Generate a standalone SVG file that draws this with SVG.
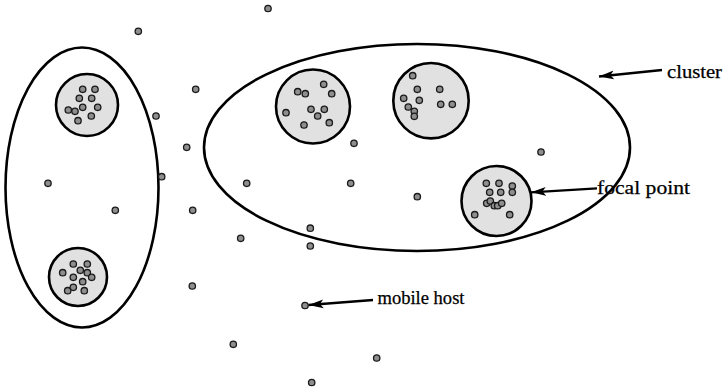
<svg xmlns="http://www.w3.org/2000/svg" width="726" height="392" viewBox="0 0 726 392">
  <defs>
    <style>
      .bg { fill: #ffffff; }
      .cluster { fill: none; stroke: #000; stroke-width: 2.6; }
      .focal { fill: #e1e1e1; stroke: #000; stroke-width: 2.6; }
      .host { fill: #8e8e8e; stroke: #1a1a1a; stroke-width: 1.3; }
      .lead { fill: none; stroke: #000; stroke-width: 2.3; }
      .label { font-family: "Liberation Serif", "Times New Roman", serif; font-size: 18px; fill: #000; stroke: #000; stroke-width: 0.25; }
    </style>
    <marker id="arrow" markerWidth="16" markerHeight="10" refX="15" refY="5" orient="auto" markerUnits="userSpaceOnUse">
      <path d="M0,0.6 L15,5 L0,9.4 L3.5,5 Z" fill="#000"/>
    </marker>
    <circle id="h" r="3.2" class="host"/>
  </defs>

  <rect class="bg" width="726" height="392"/>

  <!-- clusters -->
  <g id="cluster-left">
    <ellipse class="cluster" cx="82" cy="187.5" rx="76.5" ry="140"/>
  </g>
  <g id="cluster-right">
    <ellipse class="cluster" cx="417" cy="147.5" rx="213" ry="103.5"/>
  </g>

  <!-- focal points with their hosts -->
  <g id="focal-a">
    <circle class="focal" cx="87" cy="105" r="31"/>
    <use href="#h" x="82.7" y="89.3"/><use href="#h" x="95" y="89.3"/>
    <use href="#h" x="79.3" y="98.3"/><use href="#h" x="91.7" y="98.3"/>
    <use href="#h" x="68.3" y="110"/><use href="#h" x="75" y="111.3"/>
    <use href="#h" x="82.7" y="107.3"/><use href="#h" x="97.7" y="107.3"/>
    <use href="#h" x="78" y="120.7"/><use href="#h" x="91.3" y="116"/>
  </g>
  <g id="focal-b">
    <circle class="focal" cx="78" cy="277" r="29"/>
    <use href="#h" x="73.3" y="264"/><use href="#h" x="87.3" y="264"/>
    <use href="#h" x="62.7" y="272.7"/><use href="#h" x="80.3" y="270.3"/>
    <use href="#h" x="87.3" y="272.7"/><use href="#h" x="91.7" y="277.3"/>
    <use href="#h" x="73.3" y="277.3"/><use href="#h" x="82.7" y="281.7"/>
    <use href="#h" x="73.3" y="287.3"/><use href="#h" x="67.7" y="290.7"/>
    <use href="#h" x="84.3" y="290.7"/>
  </g>
  <g id="focal-c">
    <circle class="focal" cx="313" cy="106.5" r="37"/>
    <use href="#h" x="297.7" y="91.7"/><use href="#h" x="305.3" y="93.7"/>
    <use href="#h" x="323.7" y="84.3"/><use href="#h" x="331.7" y="93.7"/>
    <use href="#h" x="286" y="112.7"/><use href="#h" x="311" y="109.3"/>
    <use href="#h" x="324.3" y="109.3"/><use href="#h" x="317.7" y="116"/>
    <use href="#h" x="304" y="125"/><use href="#h" x="329.3" y="122.7"/>
  </g>
  <g id="focal-d">
    <circle class="focal" cx="431" cy="100.7" r="37.7"/>
    <use href="#h" x="412.7" y="75.7"/><use href="#h" x="417.3" y="89.3"/>
    <use href="#h" x="439.7" y="89.3"/><use href="#h" x="403.7" y="98.3"/>
    <use href="#h" x="419.3" y="100.3"/><use href="#h" x="440.7" y="104.3"/>
    <use href="#h" x="452.3" y="104.3"/><use href="#h" x="408.3" y="107"/>
    <use href="#h" x="414.3" y="111.3"/><use href="#h" x="414.3" y="116.3"/>
  </g>
  <g id="focal-e">
    <circle class="focal" cx="496.5" cy="201" r="35"/>
    <use href="#h" x="486.3" y="183.3"/><use href="#h" x="499" y="183.3"/>
    <use href="#h" x="512.3" y="186"/><use href="#h" x="489.7" y="192.3"/>
    <use href="#h" x="500.7" y="192.3"/><use href="#h" x="512.3" y="192.3"/>
    <use href="#h" x="486.7" y="203.3"/><use href="#h" x="490.3" y="201"/>
    <use href="#h" x="494.3" y="205.7"/><use href="#h" x="497.7" y="205.7"/>
    <use href="#h" x="501.7" y="203.3"/><use href="#h" x="474.7" y="214.7"/>
    <use href="#h" x="509.7" y="214.7"/>
  </g>

  <!-- free mobile hosts -->
  <g id="hosts">
    <use href="#h" x="268" y="8.5"/>
    <use href="#h" x="138.3" y="31.3"/>
    <use href="#h" x="195.7" y="89.3"/>
    <use href="#h" x="156" y="116"/>
    <use href="#h" x="186.7" y="147.3"/>
    <use href="#h" x="161.7" y="176.7"/>
    <use href="#h" x="48" y="183.3"/>
    <use href="#h" x="115.3" y="210.3"/>
    <use href="#h" x="192.7" y="210.3"/>
    <use href="#h" x="246.7" y="183.3"/>
    <use href="#h" x="350.7" y="183.3"/>
    <use href="#h" x="354" y="143.3"/>
    <use href="#h" x="417.3" y="196.7"/>
    <use href="#h" x="541" y="152"/>
    <use href="#h" x="310.3" y="228.2"/>
    <use href="#h" x="310.3" y="246"/>
    <use href="#h" x="240.7" y="238.3"/>
    <use href="#h" x="192.3" y="286"/>
    <use href="#h" x="305" y="305.5"/>
    <use href="#h" x="233.3" y="344.3"/>
    <use href="#h" x="376.7" y="358"/>
    <use href="#h" x="311.7" y="382.5"/>
  </g>

  <!-- label leaders -->
  <g id="connectors">
    <line class="lead" x1="662" y1="70" x2="599" y2="76.5" marker-end="url(#arrow)"/>
    <line class="lead" x1="597" y1="188.3" x2="531" y2="192.3" marker-end="url(#arrow)"/>
    <line class="lead" x1="373" y1="300" x2="308.5" y2="305" marker-end="url(#arrow)"/>
  </g>

  <!-- labels -->
  <g id="labels">
    <text class="label" x="667" y="77.5" textLength="55" lengthAdjust="spacingAndGlyphs">cluster</text>
    <text class="label" x="597" y="194" textLength="93" lengthAdjust="spacingAndGlyphs">focal point</text>
    <text class="label" x="377.5" y="303.5" textLength="87" lengthAdjust="spacingAndGlyphs">mobile host</text>
  </g>
</svg>
